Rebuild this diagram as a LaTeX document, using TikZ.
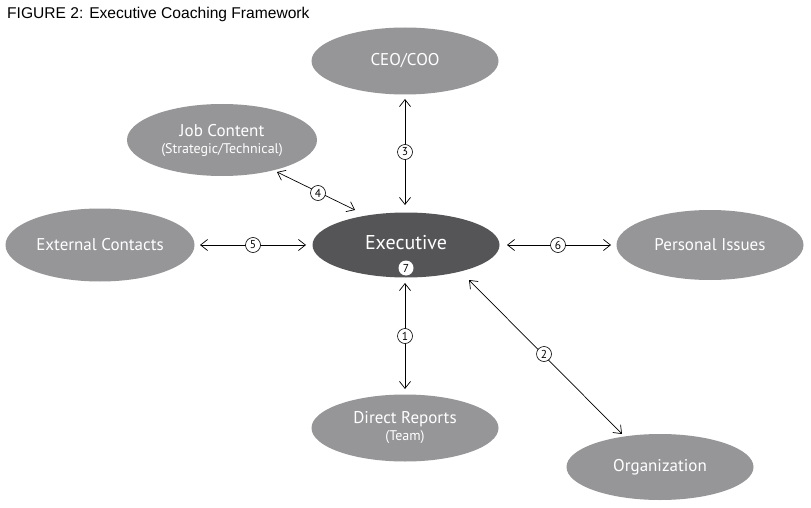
\documentclass[tikz,border=0pt]{standalone}
\usepackage{fontspec}
\setmainfont{PT Sans}
\newfontfamily\titlefont{Liberation Sans}
\usetikzlibrary{arrows.meta,shapes.geometric}
\definecolor{ovalgray}{RGB}{150,150,152}
\definecolor{execgray}{RGB}{85,85,87}
\tikzset{
  oval/.style={ellipse, fill=ovalgray, text=white, minimum width=187pt, minimum height=67pt, inner sep=0pt, align=center, font=\fontsize{17}{19}\selectfont},
  sub/.style={font=\fontsize{14}{15}\selectfont},
  link/.style={draw=black, line width=0.7pt, {Straight Barb[length=7pt,width=11pt]}-{Straight Barb[length=7pt,width=11pt]}},
  num/.style={circle, draw=black, fill=white, line width=0.6pt, minimum size=15pt, inner sep=0pt, font=\fontsize{11.5}{11.5}\selectfont},
}
\begin{document}
\begin{tikzpicture}[x=1pt,y=-1pt]
\useasboundingbox (0,0) rectangle (811,508);
\fill[white] (0,0) rectangle (811,508);
\node[anchor=west, inner sep=0pt, font=\titlefont\fontsize{15.6}{16}\selectfont] (title) at (7,14) {FIGURE 2: Executive Coaching Framework};

\node[oval] (ceo) at (405,61) {CEO/COO};
\node[oval, minimum width=190pt, minimum height=72pt] (job) at (222,140) {Job Content\\[-2pt]{\fontsize{14}{15}\selectfont (Strategic/Technical)}};
\node[oval, minimum width=189pt, minimum height=73pt] (ext) at (100,245) {External Contacts};
\node[oval, fill=execgray, minimum height=65pt, font=\fontsize{20}{22}\selectfont] (exec) at (406,245) {\raisebox{6pt}{Executive}};
\node[circle, fill=white, minimum size=15pt, inner sep=0pt, font=\fontsize{11.5}{11.5}\selectfont] (n7) at (406,268) {7};
\node[oval, minimum height=70pt] (pers) at (710,245) {Personal Issues};
\node[oval] (dir) at (405,428) {Direct Reports\\[-2pt]{\fontsize{14}{15}\selectfont (Team)}};
\node[oval, minimum height=66pt] (org) at (660,467) {Organization};

\coordinate (a1s) at (405,283); \coordinate (a1e) at (405,389);
\coordinate (a3s) at (405,99);  \coordinate (a3e) at (405,205);
\coordinate (a5s) at (200,245); \coordinate (a5e) at (306,245);
\coordinate (a6s) at (507,245); \coordinate (a6e) at (611,245);
\coordinate (a4s) at (277,172); \coordinate (a4e) at (355,210);
\coordinate (a2s) at (469,280); \coordinate (a2e) at (622,434);

\draw[link] (a1s) -- (a1e);
\draw[link] (a3s) -- (a3e);
\draw[link] (a5s) -- (a5e);
\draw[link] (a6s) -- (a6e);
\draw[link] (a4s) -- (a4e);
\draw[link] (a2s) -- (a2e);

\node[num] (n1) at (405,336) {1};
\node[num] (n2) at (544,354) {2};
\node[num] (n3) at (405,152) {3};
\node[num] (n4) at (318,193) {4};
\node[num] (n5) at (253,245) {5};
\node[num] (n6) at (558,245) {6};
\end{tikzpicture}
\end{document}
